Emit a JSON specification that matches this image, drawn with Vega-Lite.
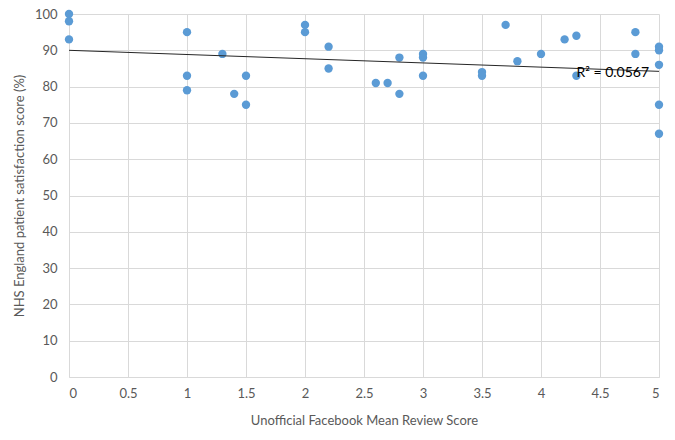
{
  "$schema": "https://vega.github.io/schema/vega-lite/v6.json",
  "autosize": {"type": "none"},
  "width": 590,
  "height": 363,
  "padding": {"left": 69, "top": 14, "right": 16, "bottom": 63},
  "background": "white",
  "config": {
    "view": {"stroke": null},
    "font": "Lato",
    "axis": {"labelFont": "Lato", "titleFont": "Lato", "labelColor": "#595959", "titleColor": "#595959", "labelFontSize": 13, "titleFontSize": 13, "titleFontWeight": "normal", "gridColor": "#d9d9d9", "ticks": false}
  },
  "datasets": {
    "pts": [
      {"fb": 0, "nhs": 100}, {"fb": 0, "nhs": 98}, {"fb": 0, "nhs": 93},
      {"fb": 1, "nhs": 95}, {"fb": 1, "nhs": 83}, {"fb": 1, "nhs": 79},
      {"fb": 1.3, "nhs": 89}, {"fb": 1.4, "nhs": 78},
      {"fb": 1.5, "nhs": 83}, {"fb": 1.5, "nhs": 75},
      {"fb": 2, "nhs": 97}, {"fb": 2, "nhs": 95},
      {"fb": 2.2, "nhs": 91}, {"fb": 2.2, "nhs": 85},
      {"fb": 2.6, "nhs": 81}, {"fb": 2.7, "nhs": 81},
      {"fb": 2.8, "nhs": 88}, {"fb": 2.8, "nhs": 78},
      {"fb": 3, "nhs": 89}, {"fb": 3, "nhs": 88}, {"fb": 3, "nhs": 83},
      {"fb": 3.5, "nhs": 84}, {"fb": 3.5, "nhs": 83},
      {"fb": 3.7, "nhs": 97}, {"fb": 3.8, "nhs": 87}, {"fb": 4, "nhs": 89},
      {"fb": 4.2, "nhs": 93}, {"fb": 4.3, "nhs": 94}, {"fb": 4.3, "nhs": 83},
      {"fb": 4.8, "nhs": 95}, {"fb": 4.8, "nhs": 89},
      {"fb": 5, "nhs": 91}, {"fb": 5, "nhs": 90}, {"fb": 5, "nhs": 86}, {"fb": 5, "nhs": 75}, {"fb": 5, "nhs": 67}
    ],
    "trend": [{"fb": 0, "nhs": 90.0}, {"fb": 5, "nhs": 84.2}],
    "label": [{"fb": 4.3, "nhs": 83.8, "text": "R² = 0.0567"}]
  },
  "layer": [
    {
      "data": {"name": "pts"},
      "mark": {"type": "point", "filled": true, "size": 70, "opacity": 1, "color": "#5b9bd5"},
      "encoding": {
        "x": {"field": "fb", "type": "quantitative", "scale": {"domain": [0, 5], "nice": false}, "axis": {"title": "Unofficial Facebook Mean Review Score", "tickCount": 10, "format": "~g", "labelPadding": 10, "titlePadding": 14, "domainColor": "#d9d9d9"}},
        "y": {"field": "nhs", "type": "quantitative", "scale": {"domain": [0, 100], "nice": false}, "axis": {"title": "NHS England patient satisfaction score (%)", "tickCount": 10, "labelPadding": 12, "titlePadding": 8, "domain": false}}
      }
    },
    {
      "data": {"name": "trend"},
      "mark": {"type": "line", "color": "#262626", "strokeWidth": 1},
      "encoding": {
        "x": {"field": "fb", "type": "quantitative"},
        "y": {"field": "nhs", "type": "quantitative"}
      }
    },
    {
      "data": {"name": "label"},
      "mark": {"type": "text", "align": "left", "baseline": "middle", "fontSize": 14, "font": "Lato", "color": "#000000"},
      "encoding": {
        "x": {"field": "fb", "type": "quantitative"},
        "y": {"field": "nhs", "type": "quantitative"},
        "text": {"field": "text"}
      }
    }
  ]
}
